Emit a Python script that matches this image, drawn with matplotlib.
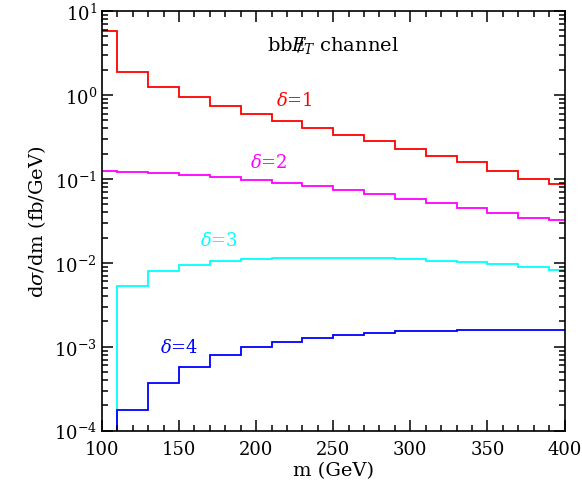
import numpy as np
import matplotlib
matplotlib.use("Agg")
import matplotlib.pyplot as plt
from matplotlib.ticker import AutoMinorLocator, LogLocator, NullFormatter

plt.rcParams['font.family'] = ['DejaVu Serif']
plt.rcParams['mathtext.fontset'] = 'dejavuserif'

edges = [100, 110] + list(range(130, 400, 20)) + [400]
d1 = [5.8, 1.9, 1.25, 0.95, 0.74, 0.59, 0.49, 0.40, 0.33, 0.28, 0.23, 0.19, 0.16, 0.125, 0.10, 0.087]
d2 = [0.125, 0.122, 0.118, 0.112, 0.105, 0.098, 0.090, 0.082, 0.074, 0.066, 0.058, 0.051, 0.045, 0.039, 0.034, 0.032]
d3 = [1e-6, 0.0053, 0.0080, 0.0095, 0.0105, 0.0110, 0.0113, 0.0115, 0.0115, 0.0113, 0.0110, 0.0106, 0.0101, 0.0096, 0.0090, 0.0083]
d4 = [1e-6, 1.75e-4, 3.7e-4, 5.8e-4, 8.0e-4, 9.8e-4, 1.15e-3, 1.28e-3, 1.38e-3, 1.45e-3, 1.52e-3, 1.56e-3, 1.6e-3, 1.6e-3, 1.6e-3, 1.58e-3]
series = [(d1, 'red', r'$\delta$=1', 225, 0.68),
          (d2, 'magenta', r'$\delta$=2', 208, 0.125),
          (d3, 'cyan', r'$\delta$=3', 176, 0.0145),
          (d4, 'blue', r'$\delta$=4', 150, 0.00078)]

fig, ax = plt.subplots(figsize=(5.82, 4.85), dpi=100)
for vals, col, lab, tx, ty in series:
    ax.stairs(vals, edges, color=col, lw=1.3, baseline=None)
    ax.text(tx, ty, lab, color=col, fontsize=13, ha='center', va='bottom')

ax.set_yscale('log')
ax.set_xlim(100, 400)
ax.set_ylim(1e-4, 10)
ax.text(0.5, 0.92, r'bb$E\!\!\!/_T$ channel', transform=ax.transAxes, fontsize=14, ha='center', va='center')
ax.set_xlabel('m (GeV)', fontsize=14, labelpad=2)
ax.set_ylabel(r'd$\sigma$/dm (fb/GeV)', fontsize=14)
ax.xaxis.set_minor_locator(AutoMinorLocator(5))
ax.yaxis.set_minor_locator(LogLocator(subs=np.arange(2, 10), numticks=20))
ax.yaxis.set_minor_formatter(NullFormatter())
ax.tick_params(which='both', direction='in', top=True, right=True, labelsize=13, width=1.1)
ax.tick_params(axis='x', pad=7)
ax.tick_params(which='major', length=8)
ax.tick_params(which='minor', length=4)
for s in ax.spines.values():
    s.set_linewidth(1.2)
plt.subplots_adjust(left=0.175, right=0.97, top=0.975, bottom=0.11)
plt.savefig('out.png')
